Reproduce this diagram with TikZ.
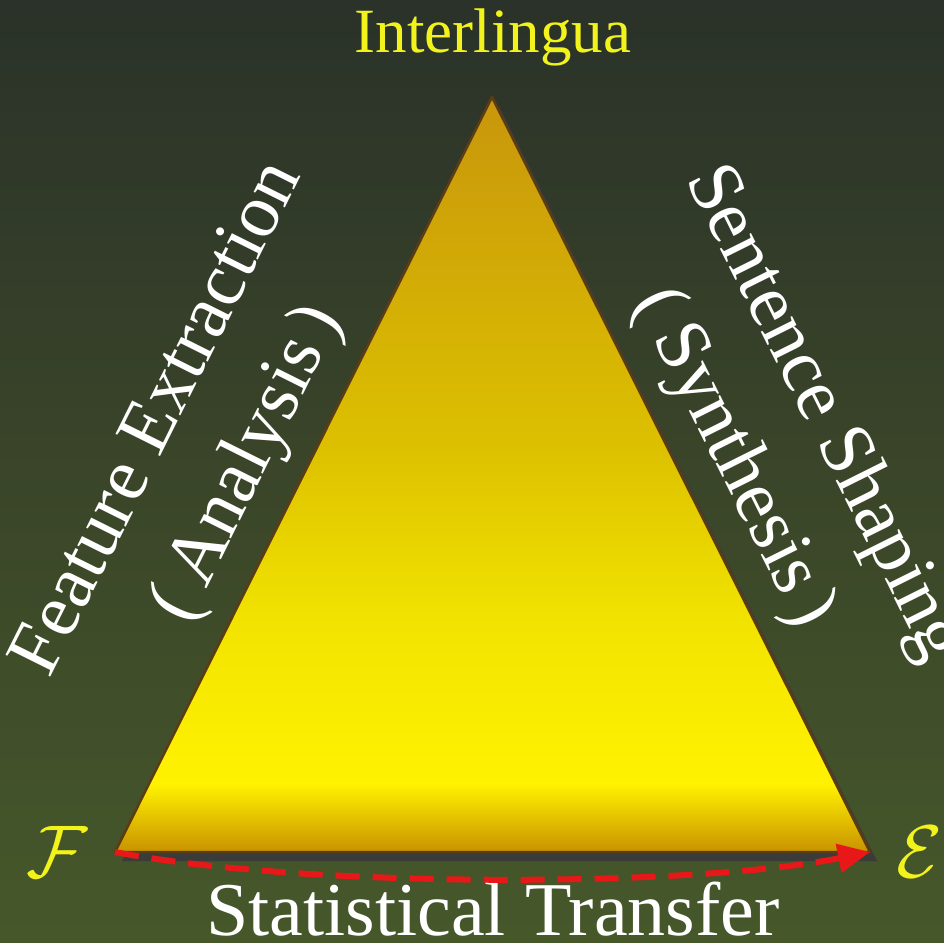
\documentclass[tikz,border=0pt]{standalone}
\usepackage{fontspec}
\setmainfont{Liberation Serif}
\usetikzlibrary{arrows.meta}
\definecolor{bgtop}{HTML}{2A3229}
\definecolor{bgmid}{HTML}{3A4529}
\definecolor{bgbot}{HTML}{46582A}
\definecolor{tritop}{HTML}{C8960C}
\definecolor{trimid}{HTML}{DCC000}
\definecolor{trilow}{HTML}{FFF200}
\definecolor{trihigh}{HTML}{F2E400}
\definecolor{tribot}{HTML}{C89200}
\definecolor{triedge}{HTML}{5C3C10}
\definecolor{shadowc}{HTML}{3A3C3A}
\definecolor{labyellow}{HTML}{F2F21C}
\definecolor{arrowred}{HTML}{E81818}
\pgfdeclareverticalshading{bgshade}{100bp}{color(0bp)=(bgbot); color(25bp)=(bgbot); color(50bp)=(bgmid); color(75bp)=(bgtop); color(100bp)=(bgtop)}
\pgfdeclareverticalshading{trishade}{100bp}{color(0bp)=(tribot); color(25bp)=(tribot); color(29.5bp)=(trilow); color(40bp)=(trihigh); color(52bp)=(trimid); color(75bp)=(tritop); color(100bp)=(tritop)}
\tikzset{
  whitelab/.style={text=white, font=\fontsize{76}{100}\selectfont, align=center, inner sep=0pt},
  yellowlab/.style={text=labyellow, inner sep=0pt},
  calig/.style={yellowlab, font=\fontsize{24}{24}\selectfont, scale=3},
  transfer/.style={draw=arrowred, line width=6pt, dash pattern=on 24pt off 13pt, -{Triangle[length=32pt,width=28pt]}}
}
\newcommand{\lpar}{(\kern0.2em}
\newcommand{\rpar}{\kern0.15em)}
\begin{document}
\begin{tikzpicture}[x=1pt,y=-1pt]
\useasboundingbox (0,0) rectangle (944,942);
\fill[shading=bgshade] (0,0) rectangle (944,942);
\coordinate (A) at (492,97);
\coordinate (B) at (115,852);
\coordinate (C) at (870,852);
\fill[shadowc] ([shift={(7,9)}]A) -- ([shift={(7,9)}]B) -- ([shift={(7,9)}]C) -- cycle;
\fill[shading=trishade] (A) -- (B) -- (C) -- cycle;
\draw[triedge, line width=2.5pt, line join=round] (A) -- (B) -- (C) -- cycle;
\node[yellowlab, font=\fontsize{63}{63}\selectfont] (inter) at (493,37) {Interlingua};
\node[whitelab, rotate=63.5] (fe) at (205,442) {Feature Extraction\\\lpar Analysis\rpar};
\node[whitelab, rotate=-63.5] (ss) at (778,436) {Sentence Shaping\\\lpar Synthesis\rpar};
\node[whitelab, anchor=base] (st) at (493,935) {Statistical Transfer};
\node[calig] (F) at (57,852) {$\mathcal{F}$};
\node[calig] (E) at (920,852) {$\mathcal{E}$};
\draw[transfer] (B) .. controls (300,888) and (690,888) .. (C);
\end{tikzpicture}
\end{document}
